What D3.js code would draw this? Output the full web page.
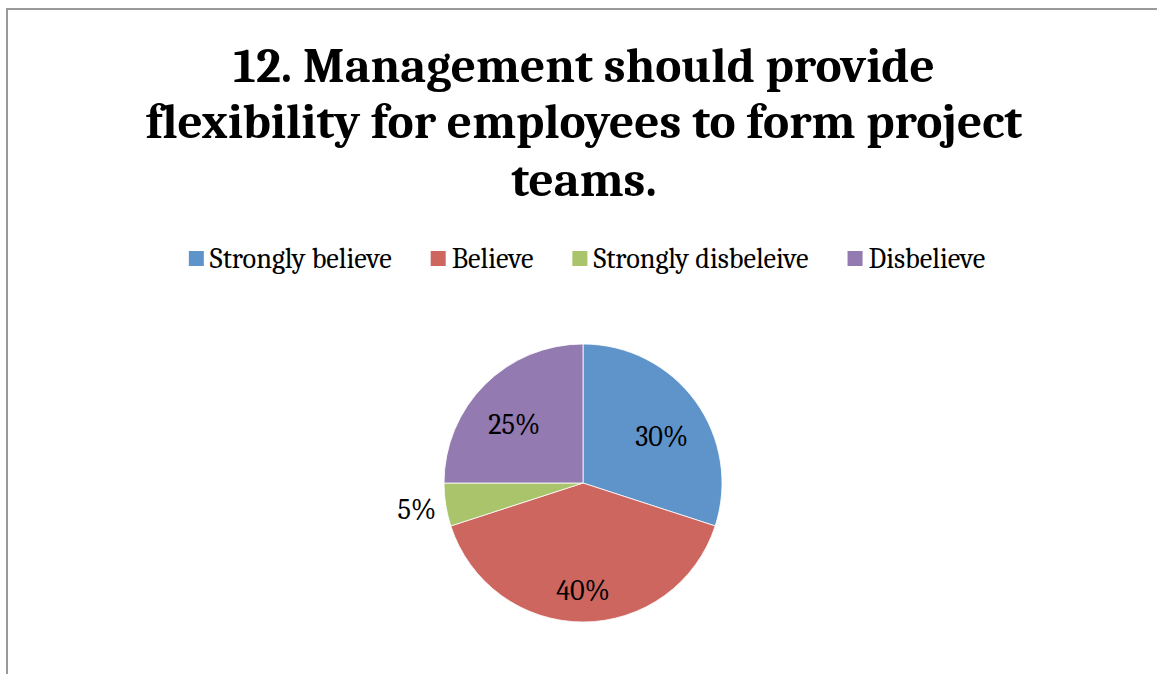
<!DOCTYPE html>
<html>
<head>
<meta charset="utf-8">
<script src="https://cdn.jsdelivr.net/npm/d3@7"></script>
<style>
  html, body { margin: 0; padding: 0; background: #fff; }
  svg { display: block; }
</style>
</head>
<body>
<svg id="chart" width="1157" height="674"></svg>
<script>
// Survey responses, question 12
const titleLines = ["12. Management should provide", "flexibility for employees to form project", "teams."];
const categories = ["Strongly believe", "Believe", "Strongly disbeleive", "Disbelieve"];
const shares = [30, 40, 5, 25];
const colors = ["#5F94CB", "#CE6660", "#A9C46A", "#937AB0"];

const W = 1157, H = 674;
const svg = d3.select("#chart");
const serif = "Cambria, 'Liberation Serif', 'DejaVu Serif', serif";

// chart area frame (left and top edges visible)
svg.append("path")
  .attr("d", `M7,${H} L7,9 L${W},9`)
  .attr("fill", "none")
  .attr("stroke", "#9a9a9a")
  .attr("stroke-width", 2);

// title: fit the widest line to its width
const title = svg.append("g").attr("font-family", serif).attr("font-weight", "bold").attr("fill", "#000");
const titleBase = [82, 138, 196];
const titleEls = titleLines.map((t, i) =>
  title.append("text").attr("x", 584).attr("y", titleBase[i]).attr("text-anchor", "middle")
    .attr("font-size", 48).text(t));
const w2 = titleEls[1].node().getComputedTextLength();
const tSize = 48 * 877 / w2;
titleEls.forEach(e => e.attr("font-size", tSize));

// legend
const legend = svg.append("g").attr("font-family", serif).attr("fill", "#000");
const probe = legend.append("text").attr("font-size", 24).text(categories[0]);
const lSize = 24 * 182 / probe.node().getComputedTextLength();
probe.remove();
const items = categories.map((c, i) => {
  const g = legend.append("g");
  g.append("rect").attr("x", 0).attr("y", -17).attr("width", 15).attr("height", 15).attr("fill", colors[i]);
  const t = g.append("text").attr("x", 21).attr("y", 0).attr("font-size", lSize).text(c);
  return { g, w: 21 + t.node().getComputedTextLength() };
});
const gap = 39;
const total = d3.sum(items, d => d.w) + gap * (items.length - 1);
let lx = 587 - total / 2;
items.forEach(it => { it.g.attr("transform", `translate(${lx},268)`); lx += it.w + gap; });

// pie
const cx = 583, cy = 483, r = 139;
const pie = d3.pie().sort(null).value(d => d)(shares);
const arc = d3.arc().innerRadius(0).outerRadius(r);
const pg = svg.append("g").attr("transform", `translate(${cx},${cy})`);
pg.selectAll("path").data(pie).join("path")
  .attr("d", arc)
  .attr("fill", (d, i) => colors[i])
  .attr("stroke", "#fff")
  .attr("stroke-width", 0.8);

// data labels: inside for larger slices, outside for the small one
const inner = d3.arc().innerRadius(r * 0.7).outerRadius(r * 0.7);
const outer = d3.arc().innerRadius(r * 1.21).outerRadius(r * 1.21);
pg.selectAll("text").data(pie).join("text")
  .attr("font-family", serif)
  .attr("font-size", lSize)
  .attr("fill", "#000")
  .attr("text-anchor", "middle")
  .attr("dy", "0.35em")
  .attr("transform", d => {
    const small = d.data < 10;
    const [x, y] = (small ? outer : inner).centroid(d);
    return `translate(${x},${small ? y : y + 10})`;
  })
  .text(d => d.data + "%");
</script>
</body>
</html>
